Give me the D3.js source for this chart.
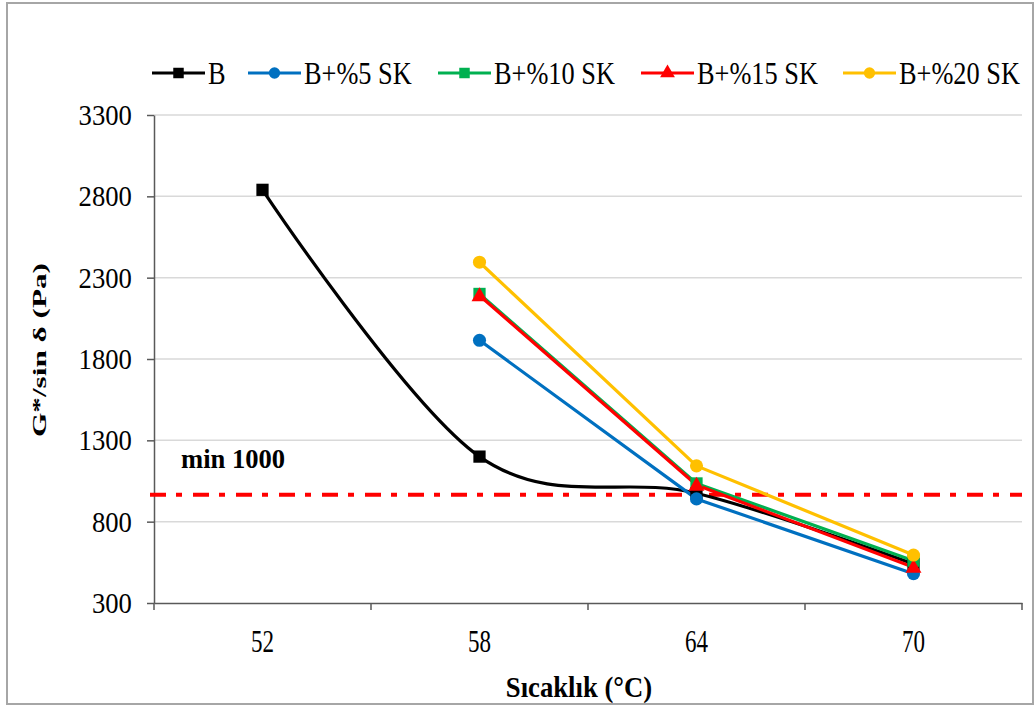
<!DOCTYPE html>
<html>
<head>
<meta charset="utf-8">
<script src="https://cdn.jsdelivr.net/npm/d3@7.9.0/dist/d3.min.js"></script>
<style>
  body { margin: 0; background: #fff; }
  svg text { font-family: "Liberation Serif", "Times New Roman", serif; fill: #000; }
</style>
</head>
<body>
<script>
// chart data
const temps = ["52", "58", "64", "70"];
const seriesNames = ["B", "B+%5 SK", "B+%10 SK", "B+%15 SK", "B+%20 SK"];
const valsB = [2840, 1200, 975, 540];
const vals5 = [null, 1915, 940, 480];
const vals10 = [null, 2200, 1035, 560];
const vals15 = [null, 2190, 1025, 520];
const vals20 = [null, 2395, 1143, 595];
const yTicks = [300, 800, 1300, 1800, 2300, 2800, 3300];
const minLine = 965;

const colors = ["#000000", "#0070C0", "#00B050", "#FF0000", "#FFC000"];
const shapes = [d3.symbolSquare, d3.symbolCircle, d3.symbolSquare, d3.symbolTriangle, d3.symbolCircle];
const allVals = [valsB, vals5, vals10, vals15, vals20];

const W = 1035, H = 709;
const plotL = 154, plotR = 1022, plotT = 115, plotB = 603;

const svg = d3.select("body").append("svg")
    .attr("width", W)
    .attr("height", H);

// outer frame
svg.append("rect")
    .attr("x", 7).attr("y", 3)
    .attr("width", 1026).attr("height", 701)
    .attr("fill", "#fff")
    .attr("stroke", "#a6a6a6")
    .attr("stroke-width", 2);

const x = d3.scaleBand().domain(temps).range([plotL, plotR]).padding(0);
const y = d3.scaleLinear().domain([300, 3300]).range([plotB, plotT]);

// gridlines
svg.append("g")
    .selectAll("line")
    .data(yTicks.slice(1))
    .join("line")
    .attr("x1", plotL).attr("x2", plotR)
    .attr("y1", d => y(d)).attr("y2", d => y(d))
    .attr("stroke", "#d9d9d9")
    .attr("stroke-width", 1.5);

// y axis
const yAxis = svg.append("g")
    .attr("transform", `translate(${plotL},0)`)
    .call(d3.axisLeft(y).tickValues(yTicks).tickFormat(d3.format("d")).tickSize(7).tickSizeOuter(0));
yAxis.select(".domain").attr("stroke", "#595959").attr("stroke-width", 1.5);
yAxis.selectAll(".tick line").attr("stroke", "#595959").attr("stroke-width", 1.5);
yAxis.selectAll(".tick text")
    .attr("font-size", 29)
    .attr("x", -24)
    .attr("dy", "0.33em")
    .attr("transform", "scale(0.92,1)");

// x axis
const xAxis = svg.append("g")
    .attr("transform", `translate(0,${plotB})`)
    .call(d3.axisBottom(x).tickSize(0).tickSizeOuter(0));
xAxis.select(".domain").attr("stroke", "#595959").attr("stroke-width", 1.5);
xAxis.selectAll(".tick text")
    .attr("font-size", 32)
    .attr("y", 49)
    .attr("dy", 0)
    .attr("x", 0)
    .attr("text-anchor", "middle")
    .attr("transform", "scale(0.72,1)");

// category boundary ticks
const bounds = temps.map(t => x(t)).concat([x(temps[temps.length - 1]) + x.bandwidth()]);
svg.append("g")
    .selectAll("line")
    .data(bounds)
    .join("line")
    .attr("x1", d => d).attr("x2", d => d)
    .attr("y1", plotB).attr("y2", plotB + 7)
    .attr("stroke", "#595959")
    .attr("stroke-width", 1.5);

// min line
svg.append("line")
    .attr("x1", plotL - 4).attr("x2", plotR)
    .attr("y1", y(minLine)).attr("y2", y(minLine))
    .attr("stroke", "#FF0000")
    .attr("stroke-width", 4)
    .attr("stroke-dasharray", "16,10,6,11");

function scaledText(g, txt, tx, ty, size, sx, opts = {}) {
    return g.append("text")
        .attr("transform", `translate(${tx},${ty}) scale(${sx},1)`)
        .attr("font-size", size)
        .attr("font-weight", opts.bold ? "bold" : "normal")
        .attr("text-anchor", opts.anchor || "start")
        .text(txt);
}

scaledText(svg, "min 1000", 181, 468, 28, 0.95, { bold: true });

// series lines
const cx = d => x(d.t) + x.bandwidth() / 2;
allVals.forEach((vals, i) => {
    const pts = temps.map((t, j) => ({ t, v: vals[j] })).filter(d => d.v != null);
    const line = d3.line()
        .x(cx)
        .y(d => y(d.v))
        .curve(i === 0 ? d3.curveCardinal.tension(0) : d3.curveLinear);
    svg.append("path")
        .datum(pts)
        .attr("d", line)
        .attr("fill", "none")
        .attr("stroke", colors[i])
        .attr("stroke-width", 3.2)
        .attr("stroke-linejoin", "round");
});

// markers (drawn after lines, series order)
allVals.forEach((vals, i) => {
    const pts = temps.map((t, j) => ({ t, v: vals[j] })).filter(d => d.v != null);
    const size = shapes[i] === d3.symbolTriangle ? 110 : (shapes[i] === d3.symbolCircle ? 135 : 150);
    svg.append("g")
        .selectAll("path")
        .data(pts)
        .join("path")
        .attr("d", d3.symbol().type(shapes[i]).size(size))
        .attr("transform", d => `translate(${cx(d)},${y(d.v) + (shapes[i] === d3.symbolTriangle ? 1 : 0)})`)
        .attr("fill", colors[i]);
});

// legend
const legendX = [152, 248, 438, 641, 843];
const legend = svg.append("g");
seriesNames.forEach((name, i) => {
    const lx = legendX[i];
    legend.append("line")
        .attr("x1", lx).attr("x2", lx + 53)
        .attr("y1", 73).attr("y2", 73)
        .attr("stroke", colors[i])
        .attr("stroke-width", 3.2);
    const size = shapes[i] === d3.symbolTriangle ? 95 : (shapes[i] === d3.symbolCircle ? 100 : 110);
    legend.append("path")
        .attr("d", d3.symbol().type(shapes[i]).size(size))
        .attr("transform", `translate(${lx + 26.5},${73})`)
        .attr("fill", colors[i]);
    scaledText(legend, name, lx + 56, 84, 31, 0.85);
});

// axis titles
scaledText(svg, "Sıcaklık (°C)", 579, 697, 29, 0.92, { bold: true, anchor: "middle" });

svg.append("text")
    .attr("transform", "translate(46,350) rotate(-90) scale(1.2,0.75)")
    .attr("font-size", 26)
    .attr("font-weight", "bold")
    .attr("text-anchor", "middle")
    .text("G*/sin δ (Pa)");
</script>
</body>
</html>
